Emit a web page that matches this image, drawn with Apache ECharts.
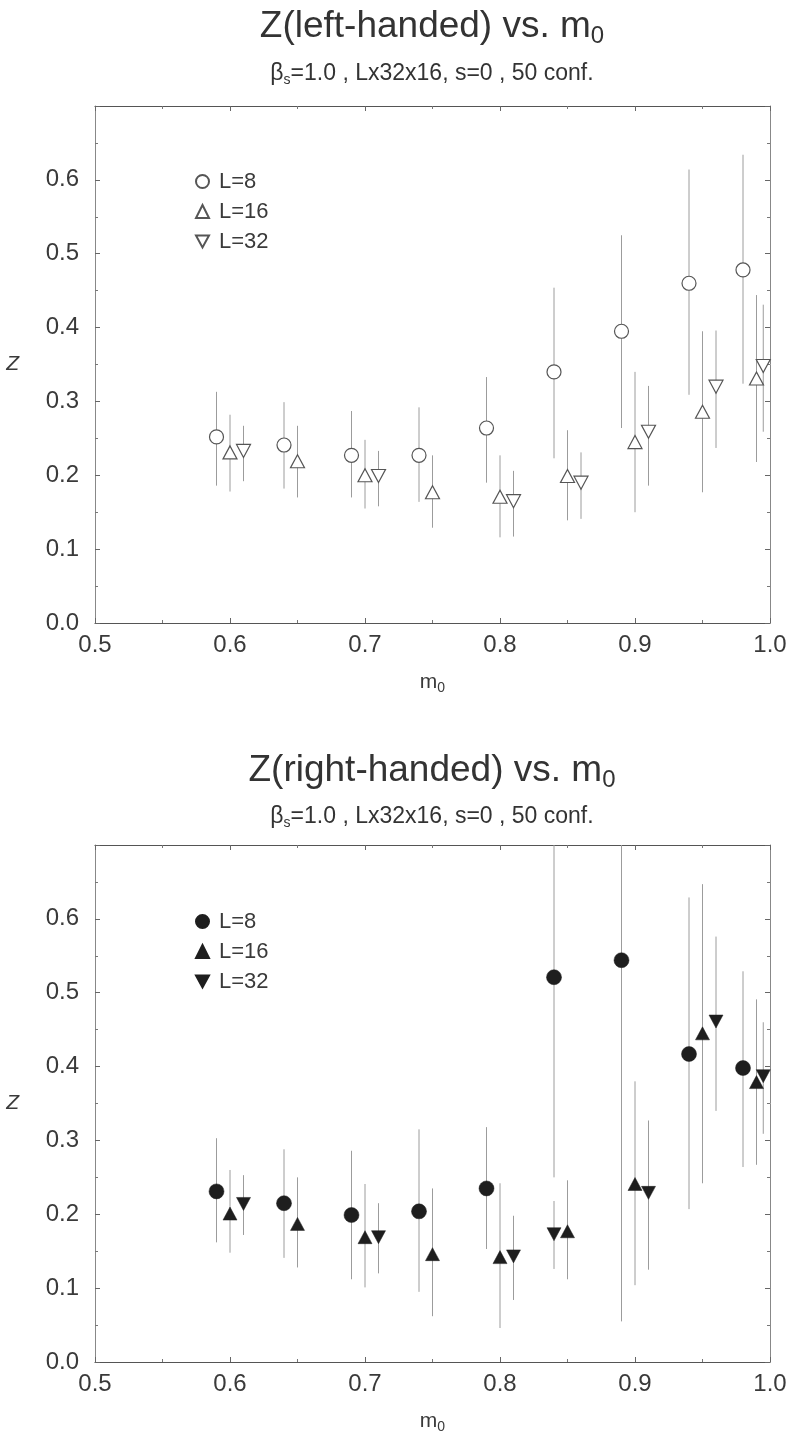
<!DOCTYPE html>
<html>
<head>
<meta charset="utf-8">
<script src="https://cdn.jsdelivr.net/npm/echarts@6/dist/echarts.min.js"></script>
<style>
html,body{margin:0;padding:0;background:#fff;}
#c{width:791px;height:1435px;}
</style>
</head>
<body>
<div id="c"></div>
<script>
// ---------- data ----------
const titleLeft = 'Z(left-handed) vs. m{s|0}';
const titleRight = 'Z(right-handed) vs. m{s|0}';
const subTitle = 'β{s|s}=1.0 , Lx32x16, s=0 , 50 conf.';
const legendNames = ['L=8', 'L=16', 'L=32'];

const xL8  = [0.59, 0.64, 0.69, 0.74, 0.79, 0.84, 0.89, 0.94, 0.98];
const xL16 = [0.60, 0.65, 0.70, 0.75, 0.80, 0.85, 0.90, 0.95, 0.99];
const xL32Left  = [0.61, 0.71, 0.81, 0.86, 0.91, 0.96, 0.995];
const xL32Right = [0.61, 0.71, 0.81, 0.84, 0.91, 0.96, 0.995];

// left-handed
const leftL8   = [0.252, 0.241, 0.227, 0.227, 0.264, 0.340, 0.395, 0.460, 0.478];
const leftL8Lo = [0.186, 0.182, 0.170, 0.164, 0.190, 0.223, 0.264, 0.309, 0.324];
const leftL8Hi = [0.313, 0.299, 0.287, 0.292, 0.333, 0.454, 0.525, 0.614, 0.634];
const leftL16   = [0.231, 0.219, 0.200, 0.177, 0.171, 0.199, 0.245, 0.286, 0.331];
const leftL16Lo = [0.178, 0.170, 0.155, 0.129, 0.116, 0.139, 0.150, 0.177, 0.218];
const leftL16Hi = [0.282, 0.267, 0.248, 0.227, 0.227, 0.261, 0.340, 0.395, 0.444];
const leftL32   = [0.233, 0.199, 0.165, 0.190, 0.259, 0.320, 0.348];
const leftL32Lo = [0.192, 0.158, 0.117, 0.141, 0.186, 0.237, 0.259];
const leftL32Hi = [0.267, 0.233, 0.206, 0.231, 0.321, 0.396, 0.431];

// right-handed
const rightL8   = [0.231, 0.215, 0.199, 0.204, 0.235, 0.521, 0.544, 0.417, 0.398];
const rightL8Lo = [0.162, 0.141, 0.112, 0.095, 0.153, 0.250, 0.055, 0.207, 0.264];
const rightL8Hi = [0.303, 0.288, 0.286, 0.315, 0.318, 0.790, 1.030, 0.629, 0.529];
const rightL16   = [0.201, 0.187, 0.169, 0.146, 0.142, 0.177, 0.241, 0.445, 0.379];
const rightL16Lo = [0.148, 0.128, 0.101, 0.062, 0.046, 0.112, 0.104, 0.242, 0.267];
const rightL16Hi = [0.260, 0.250, 0.241, 0.235, 0.242, 0.246, 0.380, 0.647, 0.491];
const rightL32   = [0.214, 0.169, 0.143, 0.173, 0.229, 0.461, 0.387];
const rightL32Lo = [0.172, 0.120, 0.084, 0.126, 0.125, 0.340, 0.309];
const rightL32Hi = [0.253, 0.215, 0.198, 0.218, 0.327, 0.576, 0.460];

// ---------- styling ----------
const FONT = '"Liberation Sans", Arial, Helvetica, sans-serif';
const TXT = '#3a3a3a';
const DOWN = 'path://M0,0L12,0L6,11Z';

const grids = [
  {left: 95, width: 675, top: 106, height: 517},
  {left: 95, width: 675, top: 845, height: 518}
];

function xAxes(g) {
  const base = {
    type: 'value', gridIndex: g, min: 0.5, max: 1.0, interval: 0.1,
    splitLine: {show: false},
    axisLine: {show: true, onZero: false, lineStyle: {color: '#555', width: 1.2}},
    axisTick: {show: true, inside: true, length: 5, lineStyle: {color: '#666'}},
    minorTick: {show: true, splitNumber: 2, length: 3, lineStyle: {color: '#777'}}
  };
  return [
    Object.assign({}, base, {
      position: 'bottom',
      axisLabel: {fontSize: 24, color: TXT, fontFamily: FONT, margin: 10,
        formatter: v => v.toFixed(1)},
      name: 'm{s|0}', nameLocation: 'middle', nameGap: 46,
      nameTextStyle: {fontSize: 21, color: TXT, fontFamily: FONT,
        rich: {s: {fontSize: 14, color: TXT, fontFamily: FONT, padding: [12, 0, 0, 0]}}}
    }),
    Object.assign({}, base, {position: 'top', axisLabel: {show: false}})
  ];
}
function yAxes(g) {
  const base = {
    type: 'value', gridIndex: g, min: 0, max: 0.7, interval: 0.1,
    splitLine: {show: false},
    axisLine: {show: true, onZero: false, lineStyle: {color: '#888', width: 1}},
    axisTick: {show: true, inside: true, length: 5, lineStyle: {color: '#666'}},
    minorTick: {show: true, splitNumber: 2, length: 3, lineStyle: {color: '#777'}}
  };
  return [
    Object.assign({}, base, {
      position: 'left',
      axisLabel: {fontSize: 24, color: TXT, fontFamily: FONT, margin: 16,
        formatter: v => (v > 0.65 ? '' : v.toFixed(1))},
      name: 'Z', nameLocation: 'middle', nameGap: 76, nameRotate: 0,
      nameTextStyle: {fontSize: 21, color: TXT, fontFamily: FONT, fontStyle: 'italic'}
    }),
    Object.assign({}, base, {position: 'right', axisLabel: {show: false}})
  ];
}

function errSeries(xs, lo, hi, g) {
  return {
    type: 'custom', xAxisIndex: 2 * g, yAxisIndex: 2 * g, clip: true, silent: true, z: 1,
    data: xs.map((x, i) => [x, lo[i], hi[i]]),
    encode: {x: 0, y: [1, 2]},
    renderItem(params, api) {
      const p1 = api.coord([api.value(0), api.value(1)]);
      const p2 = api.coord([api.value(0), api.value(2)]);
      return {type: 'line', shape: {x1: p1[0], y1: p1[1], x2: p2[0], y2: p2[1]},
        style: {stroke: '#9c9c9c', lineWidth: 1}};
    }
  };
}
function ptSeries(name, xs, ys, g, symbol, size, filled) {
  return {
    type: 'scatter', name: name, xAxisIndex: 2 * g, yAxisIndex: 2 * g,
    data: xs.map((x, i) => [x, ys[i]]),
    symbol: symbol, symbolSize: size, z: 3, silent: true,
    itemStyle: filled
      ? {color: '#1e1e1e', borderColor: '#1e1e1e', borderWidth: 0.5, opacity: 1}
      : {color: '#ffffff', borderColor: '#555', borderWidth: 1.2, opacity: 1},
    emphasis: {disabled: true}
  };
}

const series = [
  errSeries(xL8, leftL8Lo, leftL8Hi, 0),
  errSeries(xL16, leftL16Lo, leftL16Hi, 0),
  errSeries(xL32Left, leftL32Lo, leftL32Hi, 0),
  ptSeries('a:' + legendNames[0], xL8, leftL8, 0, 'circle', 14, false),
  ptSeries('a:' + legendNames[1], xL16, leftL16, 0, 'triangle', [14, 13], false),
  ptSeries('a:' + legendNames[2], xL32Left, leftL32, 0, DOWN, [14, 13], false),
  errSeries(xL8, rightL8Lo, rightL8Hi, 1),
  errSeries(xL16, rightL16Lo, rightL16Hi, 1),
  errSeries(xL32Right, rightL32Lo, rightL32Hi, 1),
  ptSeries('b:' + legendNames[0], xL8, rightL8, 1, 'circle', 15, true),
  ptSeries('b:' + legendNames[1], xL16, rightL16, 1, 'triangle', [14, 13], true),
  ptSeries('b:' + legendNames[2], xL32Right, rightL32, 1, DOWN, [14, 13], true)
];

function legend(prefix, top) {
  return {
    orient: 'vertical', left: 195, top: top, padding: 0,
    itemWidth: 13, itemHeight: 13, itemGap: 7,
    selectedMode: false,
    data: legendNames.map(n => prefix + n),
    formatter: n => n.slice(2),
    textStyle: {fontSize: 22, lineHeight: 23, color: TXT, fontFamily: FONT, padding: [0, 0, 0, 5]}
  };
}

function titleText(text, x, y, size, sub, subPad) {
  return {
    type: 'text', x: x, y: y, silent: true,
    style: {
      text: text, fill: '#333', fontSize: size, fontFamily: FONT,
      align: 'center', verticalAlign: 'middle',
      rich: {s: {fontSize: sub, fill: '#333', fontFamily: FONT, padding: [subPad, 0, 0, 0]}}
    }
  };
}

const option = {
  animation: false,
  backgroundColor: '#fff',
  grid: grids,
  xAxis: xAxes(0).concat(xAxes(1)),
  yAxis: yAxes(0).concat(yAxes(1)),
  legend: [legend('a:', 170), legend('b:', 910)],
  graphic: [
    titleText(titleLeft, 432, 27, 37, 24, 18),
    titleText(subTitle, 432, 74, 23, 14, 12),
    titleText(titleRight, 432, 771, 37, 24, 18),
    titleText(subTitle, 432, 817, 23, 14, 12)
  ],
  series: series
};

const chart = echarts.init(document.getElementById('c'), null, {renderer: 'canvas'});
chart.setOption(option);
</script>
</body>
</html>
